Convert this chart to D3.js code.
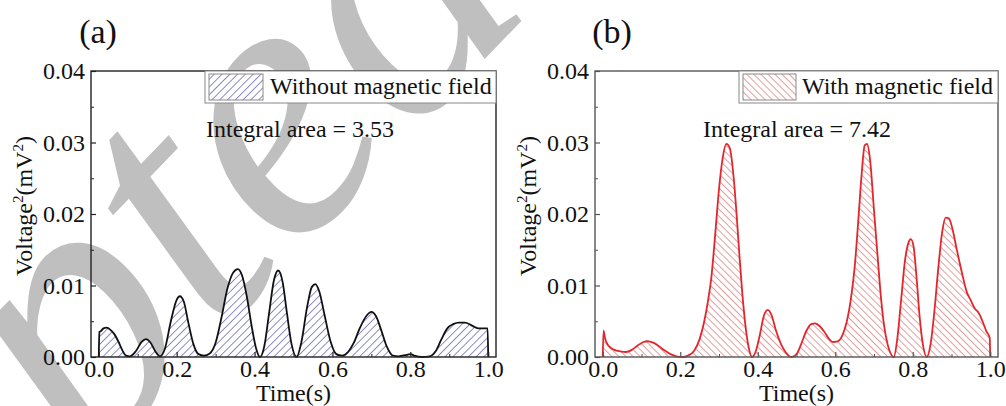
<!DOCTYPE html>
<html><head><meta charset="utf-8">
<script src="https://cdn.jsdelivr.net/npm/d3@7"></script>
<style>body{margin:0;background:#fff}svg{display:block}</style>
</head><body>
<script>
// ---- data ----
const xTicks = [0.0, 0.2, 0.4, 0.6, 0.8, 1.0];
const yTicks = [0.00, 0.01, 0.02, 0.03, 0.04];
const panelLabels = ["(a)", "(b)"];
const legendLabels = ["Without magnetic field", "With magnetic field"];
const integralLabels = ["Integral area = 3.53", "Integral area = 7.42"];
const xTitle = "Time(s)";
const watermarkText = "Accepted Manuscript";

const timeA = [0.000,0.0015,0.005,0.012,0.020,0.030,0.040,0.050,0.060,0.070,0.080,0.095,0.110,0.121,0.133,0.145,0.157,0.170,0.185,0.200,0.208,0.218,0.230,0.243,0.256,0.270,0.285,0.300,0.315,0.330,0.345,0.357,0.368,0.380,0.392,0.404,0.414,0.425,0.437,0.450,0.461,0.472,0.483,0.495,0.508,0.520,0.535,0.547,0.556,0.566,0.580,0.595,0.610,0.625,0.640,0.655,0.670,0.688,0.700,0.712,0.725,0.740,0.755,0.770,0.790,0.800,0.810,0.830,0.850,0.865,0.880,0.895,0.910,0.925,0.940,0.955,0.965,0.975,0.990,0.9985,1.000];
const voltA = [0,0.0035,0.0036,0.0040,0.0041,0.0038,0.0032,0.0022,0.0010,0.0002,0.0001,0.0008,0.0021,0.0025,0.0020,0.0008,0.0001,0.0012,0.0050,0.0080,0.0085,0.0078,0.0048,0.0018,0.0004,0.0002,0.0005,0.0020,0.0055,0.0095,0.0118,0.0123,0.0114,0.0085,0.0045,0.0012,0.0000,0.0015,0.0060,0.0108,0.0121,0.0105,0.0062,0.0018,0.0000,0.0020,0.0070,0.0098,0.0102,0.0092,0.0058,0.0022,0.0004,0.0002,0.0007,0.0020,0.0040,0.0058,0.0063,0.0057,0.0038,0.0014,0.0002,0.0001,0.0003,0.0004,0.0002,0.0000,0.0001,0.0008,0.0025,0.0040,0.0046,0.0048,0.0048,0.0045,0.0042,0.0040,0.0040,0.0040,0];

const timeB = [0.000,0.002,0.006,0.012,0.020,0.030,0.045,0.060,0.075,0.090,0.105,0.115,0.130,0.145,0.160,0.175,0.190,0.205,0.220,0.235,0.250,0.262,0.272,0.280,0.290,0.300,0.310,0.319,0.328,0.338,0.346,0.353,0.360,0.368,0.376,0.385,0.395,0.405,0.416,0.426,0.436,0.447,0.460,0.473,0.487,0.500,0.512,0.525,0.538,0.548,0.560,0.572,0.583,0.594,0.606,0.618,0.630,0.640,0.650,0.660,0.668,0.676,0.682,0.690,0.700,0.708,0.716,0.725,0.735,0.745,0.751,0.760,0.770,0.780,0.789,0.795,0.802,0.810,0.818,0.826,0.836,0.846,0.856,0.866,0.876,0.885,0.893,0.903,0.913,0.926,0.940,0.950,0.960,0.970,0.980,0.990,0.9985,1.000];
const voltB = [0,0.0037,0.0026,0.0018,0.0013,0.0010,0.0008,0.0007,0.0010,0.0016,0.0021,0.0022,0.0020,0.0015,0.0009,0.0004,0.0001,0.0000,0.0002,0.0008,0.0025,0.0050,0.0080,0.0110,0.0170,0.0235,0.0280,0.0298,0.0292,0.0250,0.0195,0.0140,0.0090,0.0045,0.0015,0.0000,0.0008,0.0030,0.0058,0.0066,0.0058,0.0037,0.0018,0.0006,0.0000,0.0004,0.0018,0.0036,0.0046,0.0047,0.0043,0.0035,0.0026,0.0021,0.0022,0.0030,0.0050,0.0080,0.0125,0.0195,0.0255,0.0296,0.0298,0.0275,0.0205,0.0150,0.0095,0.0048,0.0018,0.0003,0.0000,0.0025,0.0080,0.0135,0.0160,0.0165,0.0155,0.0110,0.0055,0.0018,0.0000,0.0018,0.0065,0.0125,0.0175,0.0195,0.0194,0.0178,0.0152,0.0120,0.0090,0.0079,0.0068,0.0062,0.0050,0.0036,0.0027,0];

const seriesA = timeA.map((t,i)=>({t, v: voltA[i]}));
const seriesB = timeB.map((t,i)=>({t, v: voltB[i]}));

// ---- layout ----
const W = 1006, H = 406;
const FONT = "'Liberation Serif','Times New Roman',serif";
const svg = d3.select("body").append("svg").attr("width", W).attr("height", H)
  .style("font-family", FONT);

const defs = svg.append("defs");
function hatch(id, color, angle, size){
  const p = defs.append("pattern").attr("id", id).attr("patternUnits","userSpaceOnUse")
    .attr("width", size).attr("height", size).attr("patternTransform", `rotate(${angle})`);
  p.append("rect").attr("width",size).attr("height",size).attr("fill","#fff");
  p.append("line").attr("x1",0.5).attr("y1",0).attr("x2",0.5).attr("y2",size)
    .attr("stroke", color).attr("stroke-width", 0.8);
}
hatch("hatchA", "#6f6fb8", 45, 5.5);
hatch("hatchB", "#d98585", -45, 5);

// watermark (behind the chart): anchored on the 2nd "e" of "Accepted"
const wmSize = 380, wmAngle = -46, wmCx = 298, wmCy = 132;
const wmG = svg.append("g").attr("transform", `translate(${wmCx},${wmCy}) rotate(${wmAngle})`);
const wm = wmG.append("text").text(watermarkText)
  .attr("font-size", wmSize).attr("font-style", "italic").attr("fill", "#bfbfbf");
try {
  const ext = wm.node().getExtentOfChar(6);
  const cx = ext.x + ext.width / 2 + 0.04 * wmSize;
  wm.attr("x", -cx).attr("y", 0.22 * wmSize);
} catch (e) {}

const panels = [
  {left:91, right:496, top:71, bottom:357, data:seriesA, line:"#111", axis:"#222", hatch:"url(#hatchA)",
   label: panelLabels[0], labelX:98, legend: legendLabels[0], legX:205, swX:209, swW:54, txX:270,
   integral: integralLabels[0], intX:206},
  {left:595, right:998, top:71, bottom:357, data:seriesB, line:"#e3262b", axis:"#555", hatch:"url(#hatchB)",
   label: panelLabels[1], labelX:612, legend: legendLabels[1], legX:739, swX:743, swW:53, txX:802,
   integral: integralLabels[1], intX:703}
];

panels.forEach(p=>{
  const x = d3.scaleLinear().domain([-0.02, 1.02]).range([p.left, p.right]);
  const y = d3.scaleLinear().domain([0, 0.04]).range([p.bottom, p.top]);
  const g = svg.append("g");

  const area = d3.area().x(d=>x(d.t)).y0(y(0)).y1(d=>y(d.v)).curve(d3.curveMonotoneX);
  const line = d3.line().x(d=>x(d.t)).y(d=>y(d.v)).curve(d3.curveMonotoneX);
  g.append("path").datum(p.data).attr("d", area).attr("fill", p.hatch);
  g.append("path").datum(p.data).attr("d", line).attr("fill","none")
    .attr("stroke", p.line).attr("stroke-width", 1.8).attr("stroke-linejoin","round");

  g.append("rect").attr("x", p.left).attr("y", p.top)
    .attr("width", p.right-p.left).attr("height", p.bottom-p.top)
    .attr("fill","none").attr("stroke", p.axis).attr("stroke-width", 1.4);

  const yMinor = d3.range(0.005, 0.04, 0.01);
  g.append("g").attr("transform", `translate(${p.left},0)`)
    .call(d3.axisLeft(y).tickValues(yMinor).tickSize(-3).tickFormat(""))
    .call(s=>{s.select(".domain").remove(); s.selectAll("line").attr("stroke", p.axis);});
  const xMinor = d3.range(0.1, 1.0, 0.2);
  g.append("g").attr("transform", `translate(0,${p.bottom})`)
    .call(d3.axisBottom(x).tickValues(xMinor).tickSize(-3).tickFormat(""))
    .call(s=>{s.select(".domain").remove(); s.selectAll("line").attr("stroke", p.axis);});

  const ya = g.append("g").attr("transform", `translate(${p.left},0)`)
    .call(d3.axisLeft(y).tickValues(yTicks).tickSize(-5).tickPadding(6).tickFormat(d3.format(".2f")));
  ya.select(".domain").remove();
  ya.selectAll("line").attr("stroke", p.axis).attr("stroke-width", 1.2);
  ya.selectAll("text").attr("font-size", 24).attr("font-family", FONT).attr("fill", "#111");

  const xa = g.append("g").attr("transform", `translate(0,${p.bottom})`)
    .call(d3.axisBottom(x).tickValues(xTicks).tickSize(-5).tickPadding(3).tickFormat(d3.format(".1f")));
  xa.select(".domain").remove();
  xa.selectAll("line").attr("stroke", p.axis).attr("stroke-width", 1.2);
  xa.selectAll("text").attr("font-size", 24).attr("font-family", FONT).attr("fill", "#111");

  g.append("text").attr("x", (p.left+p.right)/2).attr("y", 401).attr("text-anchor","middle")
    .attr("font-size", 24).attr("fill","#111").text(xTitle);
  const yt = g.append("text").attr("transform", `translate(${p.left-59},206) rotate(-90)`)
    .attr("text-anchor","middle").attr("font-size", 24).attr("fill","#111");
  yt.append("tspan").text("Voltage");
  yt.append("tspan").attr("font-size", 15).attr("dy", -9).text("2");
  yt.append("tspan").attr("dy", 9).text("(mV");
  yt.append("tspan").attr("font-size", 15).attr("dy", -9).text("2");
  yt.append("tspan").attr("dy", 9).text(")");

  g.append("text").attr("x", p.labelX).attr("y", 43).attr("text-anchor","middle")
    .attr("font-size", 34).attr("fill","#111").text(p.label);

  g.append("rect").attr("x", p.legX).attr("y", p.top).attr("width", p.right-p.legX).attr("height", 32)
    .attr("fill","#fff").attr("stroke","#888").attr("stroke-width",1);
  g.append("rect").attr("x", p.swX).attr("y", 74).attr("width", p.swW).attr("height", 26)
    .attr("fill", p.hatch).attr("stroke","#8a8a8a").attr("stroke-width",1);
  g.append("text").attr("x", p.txX).attr("y", 94).attr("font-size", 24).attr("fill","#111").text(p.legend);

  g.append("text").attr("x", p.intX).attr("y", 137).attr("font-size", 24).attr("fill","#111").text(p.integral);
});
</script>
</body></html>
